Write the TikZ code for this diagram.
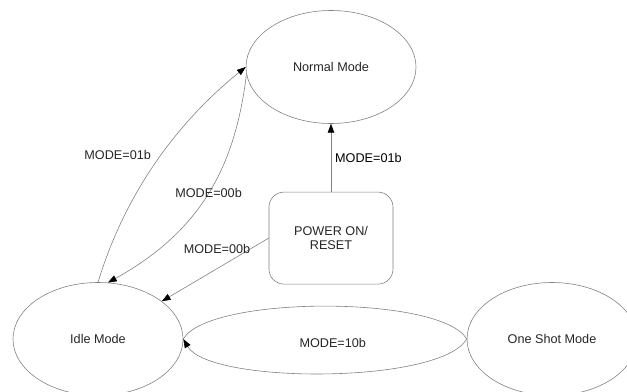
\documentclass[tikz,border=0pt]{standalone}
\usepackage{fontspec}
\setmainfont{Liberation Sans}
\usepackage{tikz}
\usetikzlibrary{shapes.geometric, arrows}
\usetikzlibrary {arrows.meta}
\usetikzlibrary{positioning}
\tikzstyle{mode} = [ellipse, minimum width=5.1cm, minimum height=3.39cm, text centered, draw=black!50, line width=0.5pt, text=black!85]
\tikzstyle{box} = [rectangle, rounded corners=0.45cm, minimum width=3.72cm, minimum height=2.76cm, align=center, draw=black!50, line width=0.5pt, text=black!85]
\tikzstyle{arrow} = [line width=0.5pt, draw=black!50, -{Triangle[length=7.5pt, width=5.5pt, color=black]}]
\tikzstyle{link} = [line width=0.5pt, draw=black!50]

\begin{document}
\begin{tikzpicture}[x=0.03cm, y=-0.03cm, font=\fontsize{10.8}{12}\selectfont]
    \useasboundingbox (0,0) rectangle (627,391);
    \node (normal) [mode] at (331,67) {Normal Mode};
    \node (power) [box, below = 2.04cm of normal] {POWER ON/\\RESET};
    \node (idle) [mode] at (98,339) {Idle Mode};
    \node (shot) [mode] at (552,339) {One Shot Mode};
    \draw [arrow] (power) -- node[right] {MODE=01b} (normal);
    \draw [arrow] (power.west) -- node[pos=0.17, left, inner sep=0pt, text=black!85] {MODE=00b} (idle);
    \draw [arrow] (idle.north) to[out=73, in=219, out distance=3.13cm, in distance=2.3cm] node[left=5pt, text=black!85] {MODE=01b} (normal.west);
    \draw [arrow] (normal.185) to[out=263, in=29, out distance=2.72cm, in distance=3.25cm] node[text=black!85] {MODE=00b} (idle.80);
    \draw [link] (idle.east) to[out=60, in=120, out distance=1.52cm, in distance=1.52cm] node[pos=0.52, below=0.85cm, text=black!85] {MODE=10b} (shot.west);
    \draw [arrow] (shot.west) to[out=240, in=300, out distance=1.57cm, in distance=1.57cm] (idle.east);
\end{tikzpicture}
\end{document}
